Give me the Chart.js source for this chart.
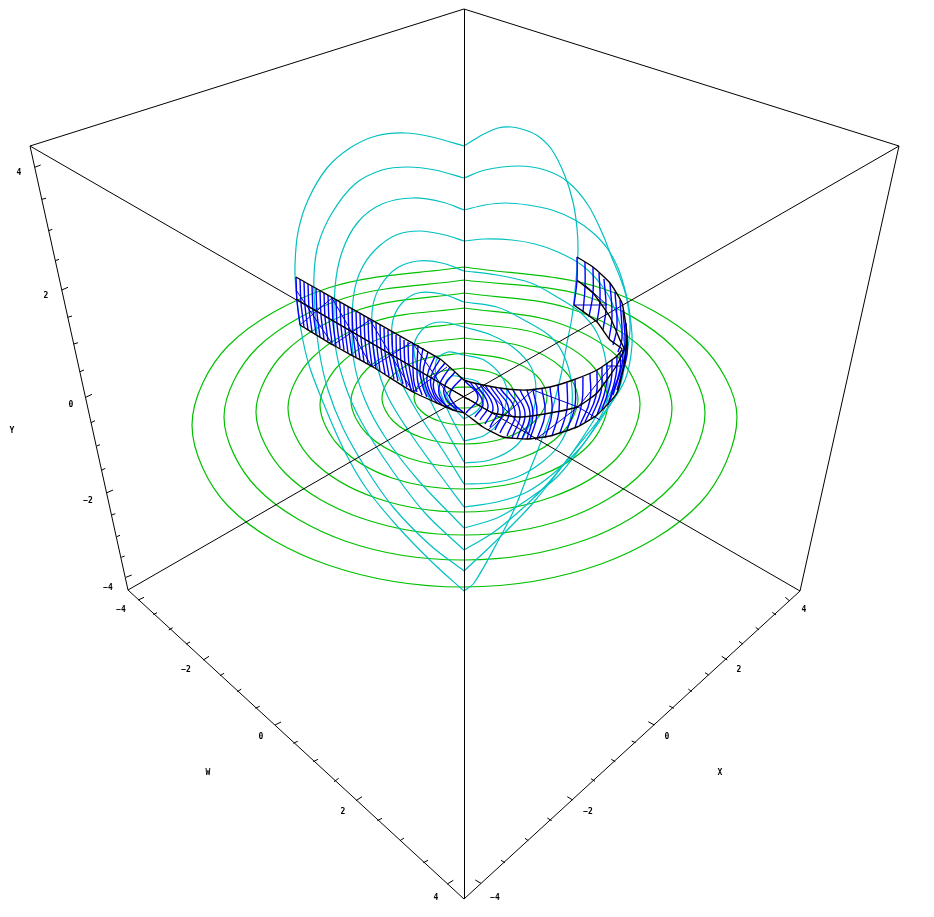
<!DOCTYPE html>
<html>
<head>
<meta charset="utf-8">
<title>3D plot</title>
<style>
html, body { margin: 0; padding: 0; background: #fff; }
canvas { display: block; }
</style>
<script src="https://cdn.jsdelivr.net/npm/chart.js@4"></script>
</head>
<body>
<canvas id="plot" width="934" height="917"></canvas>
<script>
const boxEdges = [
    [[30,146],[464,9],[899,146]],
    [[30,146],[128,590],[464,899],[800,591],[899,146]],
    [[30,146],[800,591]],
    [[899,146],[128,590]]
];
const centreLine = [[464.5,9],[464.5,899]];

const yTicks = [
    [[34.7,167.3],[40.7,165]],[[41.7,199.3],[46,198.3]],[[48.7,230.7],[52.3,229.3]],[[55.3,260.7],[59,259.3]],
    [[61.7,290],[68,287.3]],[[67.7,317.3],[72,316]],[[73.7,344],[78,342.7]],[[80,371.7],[84,370]],
    [[85.7,397.3],[92,394.3]],[[91,422.7],[95,420.7]],[[96.7,446],[100,444.7]],[[102,470],[105.3,468.3]],
    [[107,492.7],[113,490]],[[111.7,515],[115.3,513.7]],[[116.7,536.7],[120,535.3]],[[121.3,557.3],[124.7,556]],
    [[126,577.3],[131.7,575]]
];
const wTicks = [
    [[138.3,600],[144,597.3]],[[153.3,614.7],[157,612.7]],[[168.7,630],[172.7,627.7]],[[186,644],[190,642]],
    [[203.3,660],[209,656.3]],[[220,675.7],[224,673.3]],[[237.3,691.7],[241.3,689]],[[255.3,708.3],[259.7,706.3]],
    [[275,725],[281,722]],[[293.3,743.3],[297.7,741.3]],[[313.3,761.7],[318,759.3]],[[334,781.7],[338.7,778.3]],
    [[356,800.7],[362,796.7]],[[377.3,820.7],[382,818.3]],[[400,840.7],[404,838]],[[423.3,862.7],[428,860.3]],
    [[447.3,884],[453.3,880.3]]
];
const xTicks = [
    [[789.3,600.7],[785.3,597.3]],[[776,615],[772.3,612.3]],[[759,630],[755.7,627.3]],[[742.7,644],[739,641.3]],
    [[727.3,660],[721.7,656.3]],[[708.7,675],[705,672.7]],[[691.7,691.7],[688.3,689]],[[674,708.3],[669.3,706]],
    [[654.3,725],[648.3,721.7]],[[635.7,742.7],[631.7,741]],[[615.3,761.7],[611.3,759.3]],[[595,781.3],[591,778.7]],
    [[572.7,800],[567.3,796.7]],[[551.7,820.7],[547.3,818]],[[528.3,840.7],[525,838.3]],[[505,862.7],[501,860.3]],
    [[481,883.3],[475.3,880]]
];

const axisLabels = [
    ['Y',12,431],['W',208,773],['X',720,773]
];
const tickLabels = [
    ['4',19,173],['2',46,296],['0',71,405],['\u22122',88,501],['\u22124',108,588],
    ['\u22124',121,610],['\u22122',186,670],['0',261,737],['2',343,812],['4',436,898],
    ['\u22124',495,898],['\u22122',588,812],['0',667,737],['2',739,670],['4',804,610]
];

// green rings, outermost first
const ring1 = [[464,267],[328,288],[228,346],[192,425],[228,506],[328,565],[464,587],[601,564],[700,503],[737,417],[700,344],[601,288],[464,267]];
const ring2 = [[464,280],[345,298],[257,348],[224,417],[257,488],[345,541],[464,560],[585,540],[672,486],[705,413],[672,346],[585,296],[464,280]];
const ring3 = [[464,293],[361,309],[285,352],[256,412],[285,473],[361,518],[464,535],[568,518],[644,471],[672,408],[644,350],[568,308],[464,293]];
const ring4 = [[464,308],[376,321],[312,358],[288,408],[312,460],[376,498],[464,512],[552,497],[617,458],[640,404],[617,356],[552,321],[464,308]];
const ring5 = [[464,323],[392,334],[340,364],[320,405],[340,447],[392,478],[464,489],[536,477],[589,445],[608,402],[589,362],[536,333],[464,323]];
const ring6 = [[464,338],[408,346],[367,369],[351,401],[367,434],[408,458],[464,467],[521,458],[562,433],[578,399],[562,368],[521,346],[464,338]];
const ring7 = [[464,353],[423,359],[393,375],[382,398],[393,421],[423,438],[464,444],[505,438],[536,420],[547,397],[536,375],[505,359],[464,353]];
const ring8 = [[464,368],[439,372],[421,382],[414,397],[421,411],[439,421],[464,425],[490,421],[508,411],[515,397],[508,382],[490,372],[464,368]];
const ring9 = [[464,387],[454,388],[448,392],[445,397],[448,403],[454,407],[464,408],[474,407],[481,403],[483,397],[481,392],[474,388],[464,387]];

// cyan hearts, split at the two cusps
const heart1Left = [[464,146],[432,137],[405,133],[376,136],[350,148],[327,168],[308,200],[298,232],[295,265],[296,290],[301,330],[309,365],[325,407],[345,452],[366,488],[398,527],[434,564],[464,591]];
const heart1Right = [[464,146],[482,135],[498,128],[512,127],[525,130],[538,136],[552,150],[565,176],[573,202],[577,228],[578,250],[576,280],[572,317],[567,343],[561,375],[552,410],[539,447],[527,477],[514,510],[497,543],[474,583],[464,591]];
const heart2Left = [[464,178],[435,170],[408,167],[382,170],[355,184],[332,213],[318,245],[314,275],[315,310],[319,350],[328,390],[343,428],[365,467],[393,507],[430,545],[464,571]];
const heart2Right = [[464,178],[485,170],[518,166],[545,170],[568,182],[588,205],[603,235],[612,258],[621,280],[627,300],[630,330],[622,370],[600,410],[572,453],[533,503],[497,540],[464,571]];
const heart3Left = [[464,210],[442,202],[413,198],[382,204],[358,222],[342,252],[335,288],[335,343],[345,385],[362,423],[392,470],[425,513],[464,550]];
const heart3Right = [[464,210],[485,205],[505,203],[528,205],[552,210],[575,220],[592,232],[607,248],[618,268],[625,290],[630,315],[632,345],[625,380],[604,413],[577,447],[551,480],[524,507],[494,532],[464,550]];
const heart4Left = [[464,241],[445,235],[420,231],[396,235],[375,250],[361,270],[354,293],[352,325],[354,362],[365,400],[385,437],[418,480],[464,528]];
const heart4Right = [[464,241],[485,239],[512,240],[535,244],[558,252],[583,266],[605,290],[618,318],[625,350],[621,383],[607,410],[584,443],[557,477],[527,500],[497,518],[464,528]];
const heart5Left = [[464,271],[442,263],[418,261],[397,268],[381,285],[373,305],[372,332],[376,362],[388,397],[408,430],[435,468],[464,507]];
const heart5Right = [[464,271],[497,275],[531,283],[557,297],[581,313],[597,333],[606,362],[607,400],[597,423],[581,447],[554,473],[527,492],[497,502],[464,507]];
const heart6Left = [[464,302],[442,294],[418,293],[402,303],[393,320],[392,345],[399,377],[418,413],[442,449],[464,484]];
const heart6Right = [[464,302],[497,307],[524,320],[551,337],[565,358],[572,388],[570,420],[559,445],[541,463],[517,477],[491,483],[464,484]];
const heart7Left = [[464,327],[442,322],[425,327],[414,345],[419,373],[435,410],[464,462]];
const heart7Right = [[464,327],[491,335],[514,348],[531,367],[536,390],[531,420],[517,445],[490,460],[464,463]];
const heart8Left = [[464,355],[448,352],[436,361],[438,385],[450,415],[464,441]];
const heart8Right = [[464,355],[484,360],[502,377],[507,395],[500,420],[485,435],[464,441]];
const heart9Left = [[464,378],[452,376],[445,385],[450,403],[464,419]];
const heart9Right = [[464,378],[478,382],[484,396],[478,410],[464,419]];

// the black long lines of the ribbon
const ribbonTop = [[296,277],[440,359],[455,372],[464,380],[483,385],[507,389],[527,390],[550,387],[573,380],[597,370],[617,356],[622,349],[610,340],[597,322],[574,305]];
const ribbonAxis = [[296,299],[464,397]];
const ribbonMiddle = [[464,397],[470,400],[493,413],[520,417],[550,413],[577,407],[597,393],[617,365],[624,349],[620,340],[610,317],[593,293],[577,280]];
const ribbonBottom = [[300,325],[333,345],[373,367],[413,392],[437,403],[453,410],[464,413],[483,427],[503,437],[527,439],[550,436],[577,427],[597,415],[617,393],[625,360],[627,335],[622,303],[610,283],[593,267],[577,257]];

// blue cross lines along the ribbon, straight pieces
const ribbonCross = [
    [[300,325],[332,298]],[[296,290],[333,345]],[[333,345],[370,320]],[[332,298],[372,367]],
    [[372,367],[412,342]],[[370,320],[413,392]],[[413,392],[447,367]],[[412,342],[457,408]],
    [[483,386],[532,437]],[[488,430],[533,390]],[[533,390],[578,407],[600,420]],[[535,440],[578,407],[612,365]],
    [[574,305],[607,305]],[[607,366],[623,366]],[[585,285],[607,305]]
];

// blue rungs across the ribbon
const rungsLeft = [
    [[296,277],[297,301],[300,325]],[[300,279],[301,303],[304,327]],[[304,282],[305,306],[308,330]],
    [[308,284],[309,308],[312,332]],[[312,286],[313,310],[316,334]],[[316,289],[317,313],[320,337]],
    [[320,291],[321,315],[324,339]],[[324,293],[325,317],[328,341]],[[328,295],[329,319],[332,343]],
    [[332,298],[333,322],[336,346]],[[336,300],[337,324],[340,348]],[[340,302],[341,326],[344,350]],
    [[344,305],[345,329],[348,353]],[[348,307],[349,331],[352,355]],[[352,309],[353,333],[356,357]],
    [[356,312],[357,336],[360,360]],[[360,314],[361,338],[364,362]],[[364,316],[365,340],[368,364]],
    [[368,318],[369,342],[372,366]],[[372,321],[373,345],[376,369]],[[376,323],[377,347],[380,371]],
    [[380,325],[381,349],[385,374]],[[384,328],[385,352],[389,376]],[[388,330],[389,354],[394,379]],
    [[392,332],[393,356],[398,381]],[[396,335],[397,359],[403,384]],[[400,337],[401,361],[407,387]],
    [[404,340],[405,363],[411,390]],[[408,342],[409,365],[414,392]]
];
const rungsInner = [
    [[413,343],[413,367],[414,382],[417,392]],[[418,345],[417,370],[418,383],[422,395]],
    [[423,348],[420,370],[423,387],[427,397]],[[428,352],[423,373],[427,390],[432,400]],
    [[435,356],[427,377],[430,392],[437,403]],[[440,359],[431,377],[434,395],[442,405]],
    [[445,363],[435,377],[435,393],[447,407]],[[450,367],[439,387],[443,402],[453,410]],
    [[455,372],[445,385],[445,397],[457,410]],[[462,378],[450,393],[454,404],[464,413]],
    [[465,381],[478,397],[466,413]]
];
const rungsRight = [
    [[470,382],[483,403],[475,417]],[[475,383],[488,405],[480,420]],[[480,384],[493,407],[485,424]],
    [[485,385],[498,408],[490,427]],[[490,386],[503,409],[495,430]],[[495,387],[509,410],[500,433]],
    [[500,388],[515,411],[507,436]],[[507,389],[520,412],[512,438]],[[513,390],[525,413],[517,439]],
    [[520,390],[530,414],[522,439]],[[527,390],[533,414],[527,439]],[[533,390],[537,414],[530,439]],
    [[542,389],[545,414],[537,439]],[[550,387],[552,413],[545,438]],[[558,385],[559,411],[552,436]],
    [[567,383],[567,409],[560,433]],[[575,380],[575,406],[567,430]],[[583,377],[582,402],[575,428]],
    [[590,373],[590,400],[580,425]],[[597,370],[596,396],[585,422]],[[602,367],[601,392],[591,418]],
    [[607,363],[606,387],[597,415]],[[612,360],[611,381],[602,410]],[[617,356],[616,375],[608,405]],
    [[620,353],[620,370],[610,400]],[[623,350],[622,365],[613,395]],[[625,345],[625,360],[617,390]],
    [[627,335],[627,355],[620,380]]
];
const rungsTail = [
    [[577,257],[577,280],[574,305]],[[585,262],[585,287],[583,312]],[[593,267],[593,293],[589,317]],
    [[599,273],[600,300],[597,322]],[[604,279],[606,308],[603,330]],[[610,283],[612,317],[609,339]],
    [[615,292],[617,327],[613,345]],[[620,300],[622,338],[618,352]],[[623,310],[625,347],[621,357]],
    [[626,323],[626,350],[623,363]]
];

const rings = [ring1, ring2, ring3, ring4, ring5, ring6, ring7, ring8, ring9];
const hearts = [
    heart1Left, heart1Right, heart2Left, heart2Right, heart3Left, heart3Right,
    heart4Left, heart4Right, heart5Left, heart5Right, heart6Left, heart6Right,
    heart7Left, heart7Right, heart8Left, heart8Right, heart9Left, heart9Right
];

const datasets = [];
function addLines(lines, color, width, tension, order) {
    lines.forEach(function(line) {
        datasets.push({
            data: line.map(function(p) { return { x: p[0], y: p[1] }; }),
            showLine: true,
            borderColor: color,
            borderWidth: width,
            tension: tension,
            pointRadius: 0,
            order: order
        });
    });
}

// chart.js tension of about 1/3 gives an even curve through the points
addLines(rings, '#00c000', 1.2, 0.33, 6);
addLines(hearts, '#00c0c0', 1.2, 0.33, 5);
addLines(boxEdges, '#000000', 1, 0, 4);
addLines(yTicks.concat(wTicks, xTicks), '#000000', 1, 0, 4);
addLines([centreLine], '#000000', 1, 0, 4);
addLines(rungsLeft, '#0000ff', 1.4, 0.3, 3);
addLines(rungsInner.concat(rungsRight, rungsTail), '#0000ff', 1.4, 0.45, 3);
addLines(ribbonCross, '#0000c8', 1, 0, 2);
addLines([ribbonTop, ribbonMiddle, ribbonBottom], '#000000', 1.4, 0.15, 1);
addLines([ribbonAxis], '#000000', 1.4, 0, 1);

// labels go through the same scales as the lines
const plotLabels = {
    id: 'plotLabels',
    afterDatasetsDraw: function(chart) {
        const ctx = chart.ctx;
        ctx.save();
        ctx.fillStyle = '#000';
        ctx.font = 'bold 8px "DejaVu Sans Mono"';
        ctx.textAlign = 'center';
        ctx.textBaseline = 'middle';
        tickLabels.concat(axisLabels).forEach(function(l) {
            ctx.fillText(l[0], chart.scales.x.getPixelForValue(l[1]), chart.scales.y.getPixelForValue(l[2]));
        });
        ctx.restore();
    }
};

new Chart(document.getElementById('plot').getContext('2d'), {
    type: 'scatter',
    data: { datasets: datasets },
    options: {
        responsive: false,
        animation: false,
        layout: { padding: 0 },
        plugins: {
            legend: { display: false },
            tooltip: { enabled: false }
        },
        scales: {
            x: { type: 'linear', display: false, min: 0, max: 934 },
            y: { type: 'linear', display: false, min: 0, max: 917, reverse: true }
        }
    },
    plugins: [plotLabels]
});
</script>
</body>
</html>
